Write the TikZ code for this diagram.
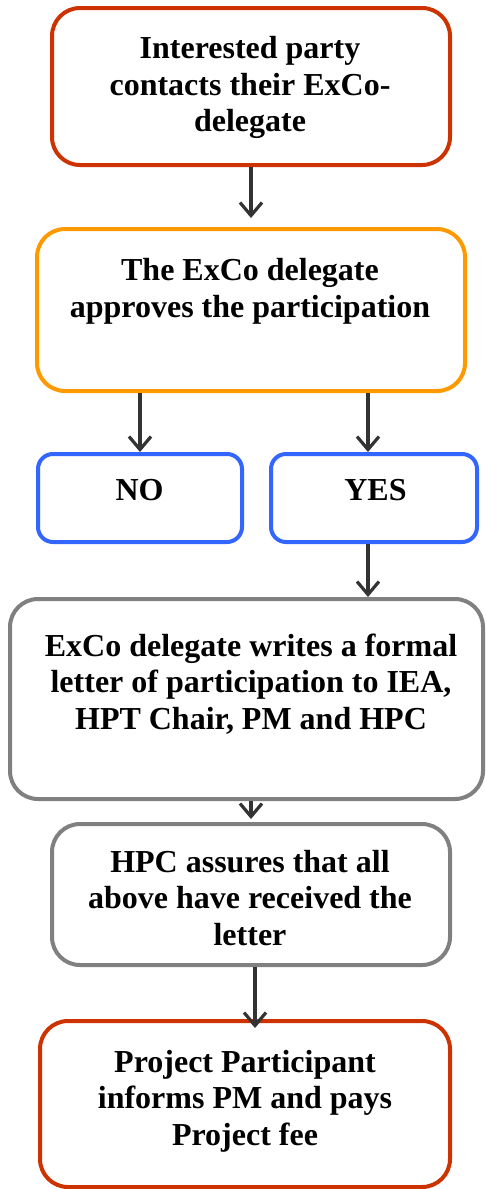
\documentclass[tikz,border=0pt]{standalone}
\usepackage{fontspec}
\setmainfont{Liberation Serif}
\usetikzlibrary{arrows.meta,calc}
\definecolor{cred}{HTML}{CC3300}
\definecolor{corange}{HTML}{FF9900}
\definecolor{cblue}{HTML}{3366FF}
\definecolor{cgrey}{HTML}{808080}
\definecolor{carrow}{HTML}{333333}
\begin{document}
\begin{tikzpicture}[x=1pt,y=-1pt,
  box/.style={draw, line width=4pt, rounded corners=28pt, fill=white, inner sep=0pt},
  small/.style={rounded corners=15pt},
  lbl/.style={font=\bfseries\fontsize{32}{36.5}\selectfont, align=center, inner sep=0pt, anchor=base},
  arr/.style={draw=carrow, line width=3.2pt, -{Straight Barb[length=13pt,width=22pt]}}]
\useasboundingbox (0,0) rectangle (485,1189);
\node[box, draw=cred, minimum width=398pt, minimum height=157pt] (b1) at (251,86.5) {};
\node[box, draw=corange, minimum width=428pt, minimum height=162pt] (b2) at (251,310) {};
\node[box, small, draw=cblue, minimum width=204pt, minimum height=88pt] (no) at (140,498) {};
\node[box, small, draw=cblue, minimum width=206pt, minimum height=88pt] (yes) at (374,498) {};
\node[box, draw=cgrey, minimum width=473pt, minimum height=200pt] (g1) at (246.5,699) {};
\node[box, draw=cgrey, minimum width=398pt, minimum height=141pt] (g2) at (251,894.5) {};
\node[box, draw=cred, minimum width=410pt, minimum height=166pt] (r2) at (245,1104) {};

\node[lbl] (t1) at (250,131.5) {Interested party\\contacts their ExCo-\\delegate};
\node[lbl] (t2) at (250,317) {The ExCo delegate\\approves the participation};
\node[lbl] (tno) at (139.5,500) {NO};
\node[lbl] (tyes) at (375.5,500) {YES};
\node[lbl] (tg1) at (251,729) {ExCo delegate writes a formal\\letter of participation to IEA,\\HPT Chair, PM and HPC};
\node[lbl] (tg2) at (250,945) {HPC assures that all\\above have received the\\letter};
\node[lbl] (tr2) at (245,1145) {Project Participant\\informs PM and pays\\Project fee};

\draw[arr, shorten >=9pt] (b1.south) -- (b2.north);
\draw[arr] (no.north |- b2.south) -- (no.north);
\draw[arr] ($(yes.north |- b2.south)+(-6,0)$) -- ($(yes.north)+(-6,0)$);
\draw[arr] ($(yes.south)+(-6,0)$) -- ($(g1.north -| yes.south)+(-6,0)$);
\draw[arr, shorten >=3pt] (g2.north |- g1.south) -- (g2.north);
\draw[arr] ($(g2.south)+(4,0)$) -- ($(r2.north -| g2.south)+(4,9)$);
\end{tikzpicture}
\end{document}
